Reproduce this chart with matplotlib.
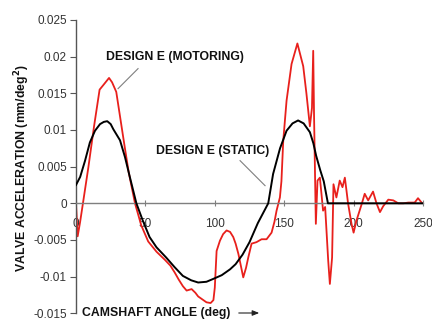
import numpy as np
import matplotlib
matplotlib.use("Agg")
import matplotlib.pyplot as plt

plt.rcParams["font.family"] = ["Liberation Sans", "DejaVu Sans"]

# ---- Datos ----
ang_static = [0, 3, 6.5, 10, 13.7, 17.3, 20, 22.5, 25, 26.9, 31.7, 35.3, 38.9,
              43.5, 48, 53, 58, 65, 71, 77, 83, 88, 94, 99, 105, 111, 115, 120,
              125, 131, 138.5, 142, 147, 151.7, 156, 160, 164, 168.5, 171,
              173, 176, 178.5, 180, 181.5, 250]
acc_static = [0.0025, 0.0036, 0.0058, 0.0083, 0.0099, 0.0108, 0.0111, 0.0112,
              0.0108, 0.0101, 0.0086, 0.0063, 0.0035, 0.0, -0.0023, -0.0046,
              -0.0060, -0.0074, -0.0087, -0.0099, -0.0105, -0.0108, -0.0107,
              -0.0103, -0.0098, -0.0090, -0.0083, -0.0070, -0.0053, -0.0027,
              0.0, 0.0040, 0.0075, 0.0099, 0.0109, 0.0113, 0.0109, 0.0097,
              0.0082, 0.0065, 0.0045, 0.0030, 0.0015, 0.0, 0.0]

ang_motoring = [0, 1.2, 3, 5, 8.9, 13, 17, 20, 23.8, 26, 29, 32, 35, 38, 42.5,
                47, 52, 58, 64, 68, 71, 74, 77, 79.7, 81.5, 83.3, 86, 88, 91,
                94, 97, 99, 100, 101.3, 103.7, 106, 108.5, 111, 113.3, 115, 117,
                120.5, 122.5, 124.1, 126.5, 130, 133.7, 137.3, 140.9, 143, 144.5,
                146.9, 148, 149.3, 151.7, 155.3, 159.5, 163.7, 166, 168.5, 170,
                170.9, 171.5, 172.8, 174, 175.7, 177, 178, 179.5, 181.7, 182.9,
                184.5, 185.5, 187.6, 190, 192, 193.7, 194.9, 196, 198.5, 200,
                202, 204, 206, 208, 210.5, 214, 216.5, 219, 221.3, 225, 228.6,
                232.2, 235.8, 239.4, 244, 246.4, 249]
acc_motoring = [0.0, -0.0045, -0.0025, 0.0, 0.0049, 0.0105, 0.0155, 0.0162,
                0.0171, 0.0165, 0.0152, 0.0115, 0.0078, 0.0042, 0.0, -0.0030,
                -0.0052, -0.0066, -0.0077, -0.0085, -0.0094, -0.0104, -0.0113,
                -0.0119, -0.0118, -0.0117, -0.0122, -0.0127, -0.0131, -0.0135,
                -0.0136, -0.0132, -0.0115, -0.0065, -0.0051, -0.0042, -0.0037,
                -0.0039, -0.0046, -0.0055, -0.0069, -0.0101, -0.0088, -0.0074,
                -0.0055, -0.0053, -0.0049, -0.0049, -0.0040, -0.0025, -0.0010,
                0.0008, 0.0030, 0.0085, 0.0140, 0.0190, 0.0218, 0.0187, 0.0150,
                0.0105, 0.0130, 0.0208, 0.0120, -0.0028, 0.0031, 0.0035, 0.0010,
                -0.0010, -0.0005, -0.0078, -0.0110, -0.0074, 0.0026, 0.0008,
                0.0031, 0.0022, 0.0035, 0.0017, 0.0, -0.0028, -0.0040, -0.0024,
                -0.0012, 0.0, 0.0013, 0.0004, 0.0016, 0.0, -0.0012, -0.0004,
                0.0005, 0.0004, 0.0, 0.0, 0.0001, 0.0001, 0.0007, 0.0001]

x_ticks = [0, 50, 100, 150, 200, 250]
y_ticks = [-0.015, -0.01, -0.005, 0, 0.005, 0.01, 0.015, 0.02, 0.025]
y_ticklabels = ["-0.015", "-0.01", "-0.005", "0", "0.005", "0.01", "0.015", "0.02", "0.025"]

W, H = 432, 322
fig = plt.figure(figsize=(W / 100, H / 100), dpi=100)
ax = fig.add_axes([76 / W, 1 - 313.3 / H, (423 - 76) / W, (313.3 - 20) / H])

ax.plot(ang_static, acc_static, color="black", linewidth=1.4, zorder=3)
ax.plot(ang_motoring, acc_motoring, color="#e8201c", linewidth=1.3, zorder=2)

ax.set_xlim(0, 250)
ax.set_ylim(-0.015, 0.025)

gris = "#7f7f7f"
for lado in ["top", "right"]:
    ax.spines[lado].set_visible(False)
ax.spines["bottom"].set_position(("data", 0))
ax.spines["bottom"].set_color(gris)
ax.spines["left"].set_color("#555555")
ax.spines["bottom"].set_linewidth(1.0)
ax.spines["left"].set_linewidth(1.0)

ax.set_xticks(x_ticks)
ax.set_yticks(y_ticks)
ax.set_yticklabels(y_ticklabels)
ax.tick_params(axis="x", direction="inout", length=5, width=0.8, colors=gris,
               labelcolor="#333333", labelsize=8.5, pad=8)
ax.tick_params(axis="y", direction="out", length=4.5, width=0.8, colors="#555555",
               labelcolor="#333333", labelsize=8.5, pad=2)

ax.text(71.3, 0.0199, "DESIGN E (MOTORING)", ha="center", va="center",
        fontsize=8.8, fontweight="bold", color="#111111")
ax.plot([44.7, 30.3], [0.01837, 0.01564], color=gris, linewidth=0.8)
ax.text(98.3, 0.0072, "DESIGN E (STATIC)", ha="center", va="center",
        fontsize=8.8, fontweight="bold", color="#111111")
ax.plot([118.2, 136.2], [0.00582, 0.00241], color=gris, linewidth=0.8)

fig.text(22 / W, 1 - 168 / H, "VALVE ACCELERATION (mm/deg$^\\mathbf{2}$)",
         rotation=90, ha="center", va="center", fontsize=8.8, fontweight="bold",
         color="#111111")
fig.text(82 / W, 1 - 313 / H, "CAMSHAFT ANGLE (deg)", ha="left", va="center",
         fontsize=8.8, fontweight="bold", color="#111111")
fig.patches.append(matplotlib.patches.FancyArrowPatch(
    (236 / W, 1 - 313 / H), (262 / W, 1 - 313 / H), transform=fig.transFigure,
    arrowstyle="-|>,head_length=4,head_width=1.6", color="#222222",
    linewidth=0.8, mutation_scale=1))

fig.savefig("out.png", dpi=100)
